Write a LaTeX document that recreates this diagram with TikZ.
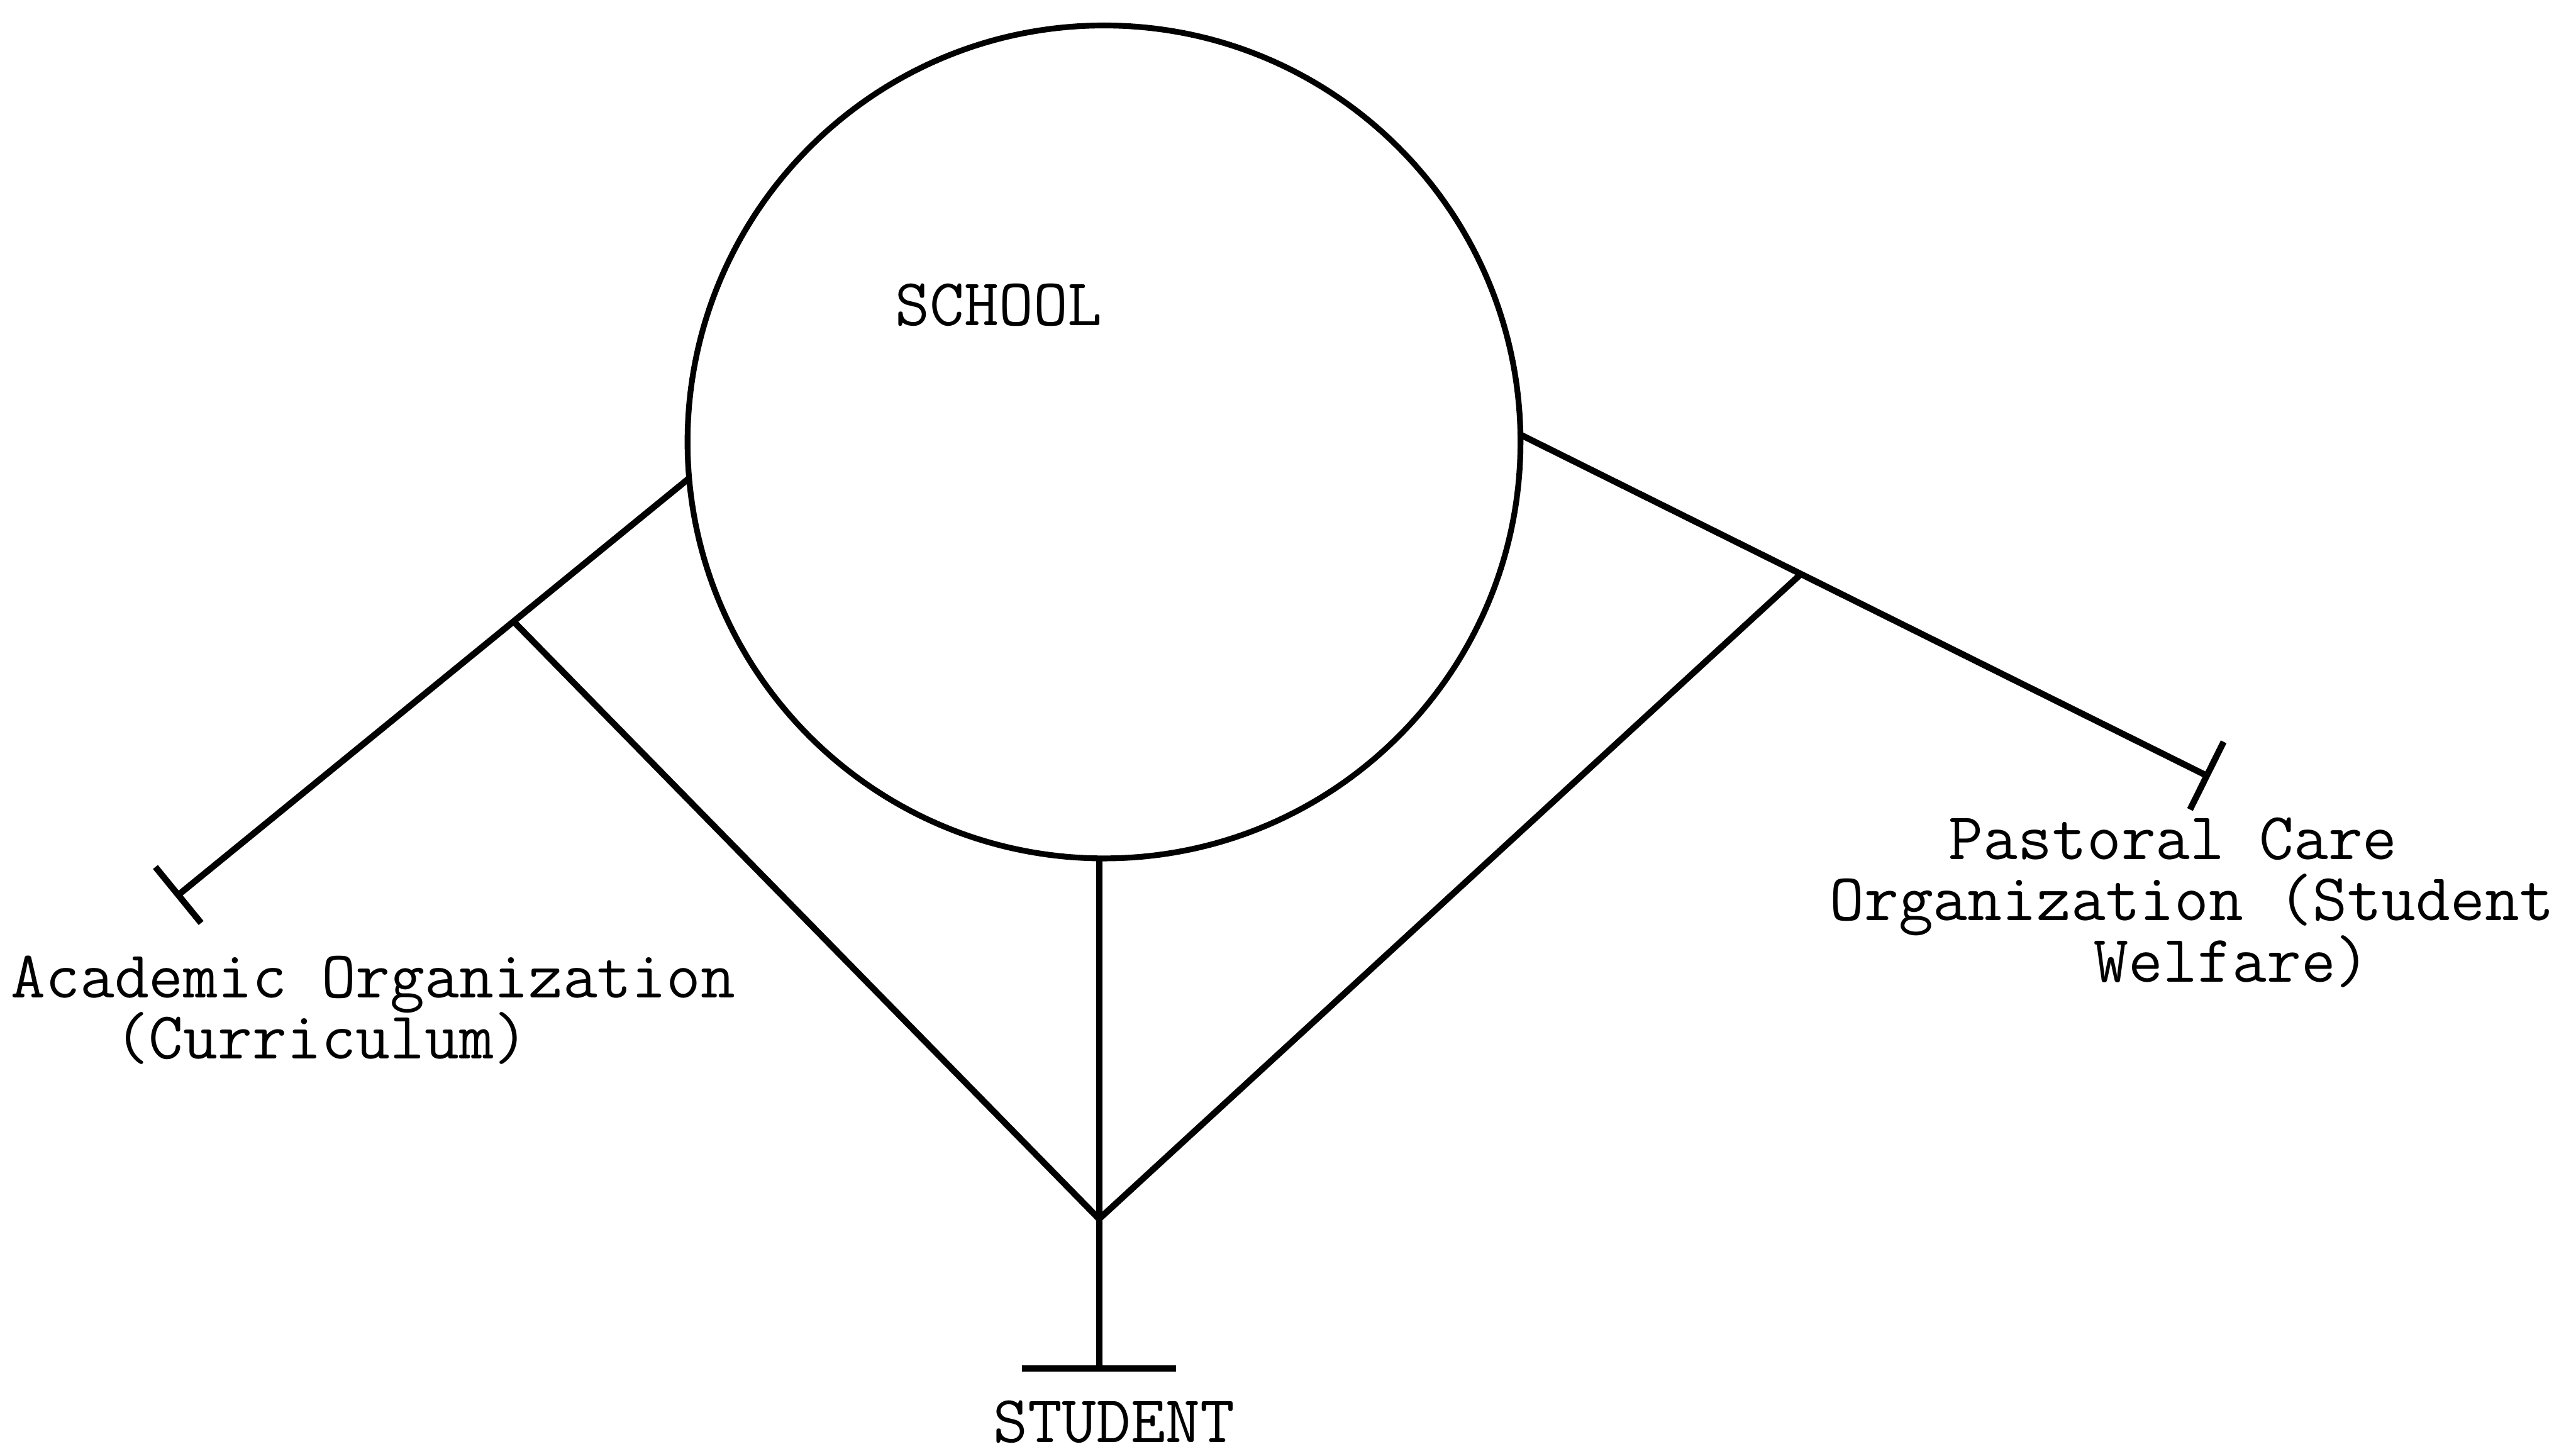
\documentclass[tikz,border=0pt]{standalone}
\usepackage{tikz}
\usetikzlibrary{arrows.meta,calc}
\setlength{\lineskiplimit}{-\maxdimen}

\begin{document}
\begin{tikzpicture}[
    kreis/.style={
      circle,
      minimum size=5.07cm,
      inner sep=0pt,
      outer sep=0pt,
      line width=1pt,
      draw},
    schrift/.style={
      font=\ttfamily\fontsize{11.6}{10.6}\selectfont,
      inner sep=0pt,
      align=left},
    ast/.style={line width=1.1pt}
    ]
  \useasboundingbox (0,0) rectangle (15.68,8.85);

  \node at (6.72,6.16) (kreis0) [kreis] {};
  \node at (6.08,6.87) (schule) [schrift, anchor=base] {SCHOOL};

  \node at (0.06,3.04) (knoten0) [schrift, anchor=north west]
    {Academic Organization\\\phantom{Aca}(Curriculum)};
  \node at (11.13,3.88) (knoten1) [schrift, anchor=north west]
    {\hspace*{1.78em}Pastoral Care\\Organization (Student\\\hspace*{3.95em}Welfare)};
  \node at (6.78,0.07) (knoten2) [schrift, anchor=base] {STUDENT};

  \coordinate (ende0) at (1.07,3.39);
  \coordinate (ende1) at (13.45,4.12);
  \coordinate (ende2) at (6.69,0.50);
  \coordinate (mitte) at (6.69,1.43);

  \draw[ast, -{Bar[width=0.44cm]}] (kreis0.185) -- (ende0);
  \draw[ast, -{Bar[width=0.46cm]}] (kreis0.1) -- (ende1);
  \draw[ast, -{Bar[width=0.94cm]}] (kreis0.south -| ende2) -- (ende2);
  \draw[ast] ($(kreis0.185)!0.342!(ende0)$) -- (mitte)
     -- ($(kreis0.1)!0.407!(ende1)$);

\end{tikzpicture}
\end{document}
